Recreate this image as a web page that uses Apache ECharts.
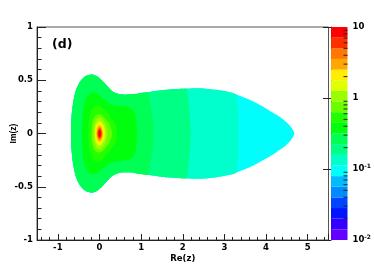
<!DOCTYPE html>
<html><head><meta charset="utf-8">
<script src="https://cdn.jsdelivr.net/npm/echarts@6/dist/echarts.min.js"></script>
<style>html,body{margin:0;padding:0;background:#fff}#c{width:374px;height:268px}</style>
</head><body><div id="c"></div>
<script>
// ---- axes ----
const xRange = [-1.5, 5.5];
const yRange = [-1, 1];
const zRange = [0.01, 10];
// ---- colour scale: 20 log-spaced contour levels and their palette colours ----
const contourLevels = [0.01, 0.0141, 0.0200, 0.0282, 0.0398, 0.0562, 0.0794, 0.112, 0.158, 0.224, 0.316, 0.447, 0.631, 0.891, 1.26, 1.78, 2.51, 3.55, 5.01, 7.08, 10];
const paletteColors = ['#6300ff','#3300ff','#0014ff','#0044ff','#008bff','#00bbff','#00fffc','#00ffcc','#00ff85','#00ff55','#00ff0e','#22ff00','#69ff00','#99ff00','#e0ff00','#ffee00','#ffa700','#ff7700','#ff3000','#ff0000'];
const zMinorTicks = [0.02,0.03,0.04,0.05,0.06,0.07,0.08,0.09,0.2,0.3,0.4,0.5,0.6,0.7,0.8,0.9,2,3,4,5,6,7,8,9];
// ---- filled contour regions (upper half outlines [Re z, Im z]; the field is symmetric in Im z) ----
const regionValues = [0.094, 0.133, 0.188, 0.266, 0.376, 0.531, 0.75, 1.06, 1.5, 2.11, 2.99, 4.22, 5.96, 8.4];
const outlineDomain = [[-0.68,0],[-0.67,0.15],[-0.63,0.29],[-0.56,0.41],[-0.46,0.49],[-0.33,0.54],[-0.18,0.555],[-0.05,0.535],[0.08,0.49],[0.2,0.44],[0.3,0.4],[0.42,0.375],[0.6,0.365],[0.85,0.37],[1.2,0.39],[1.6,0.41],[2.0,0.42],[2.4,0.425],[2.8,0.41],[3.1,0.39],[3.4,0.35],[3.7,0.3],[4.0,0.235],[4.25,0.175],[4.45,0.12],[4.58,0.07],[4.65,0.03],[4.68,0]];
const outlineBand7 = [[-0.68,0],[-0.67,0.15],[-0.63,0.29],[-0.56,0.41],[-0.46,0.49],[-0.33,0.54],[-0.18,0.555],[-0.05,0.535],[0.08,0.49],[0.2,0.44],[0.3,0.4],[0.42,0.375],[0.6,0.365],[0.85,0.37],[1.2,0.39],[1.6,0.41],[2.0,0.42],[2.4,0.425],[2.8,0.41],[3.1,0.39],[3.28,0.368],[3.31,0.3],[3.33,0.2],[3.34,0.1],[3.34,0]];
const outlineBand8 = [[-0.68,0],[-0.67,0.15],[-0.63,0.29],[-0.56,0.41],[-0.46,0.49],[-0.33,0.54],[-0.18,0.555],[-0.05,0.535],[0.08,0.49],[0.2,0.44],[0.3,0.4],[0.42,0.375],[0.6,0.365],[0.85,0.37],[1.2,0.39],[1.6,0.41],[2.0,0.42],[2.1,0.42],[2.13,0.33],[2.16,0.22],[2.18,0.1],[2.19,0]];
const outlineBand9 = [[-0.68,0],[-0.67,0.15],[-0.63,0.29],[-0.56,0.41],[-0.46,0.49],[-0.33,0.54],[-0.18,0.555],[-0.05,0.535],[0.08,0.49],[0.2,0.44],[0.3,0.4],[0.42,0.375],[0.6,0.365],[0.85,0.37],[1.14,0.385],[1.2,0.32],[1.25,0.22],[1.29,0.1],[1.3,0]];
const outlineBand10 = [[-0.42,0],[-0.41,0.15],[-0.37,0.27],[-0.3,0.345],[-0.18,0.385],[-0.05,0.37],[0.08,0.33],[0.2,0.29],[0.35,0.265],[0.55,0.255],[0.75,0.24],[0.85,0.19],[0.89,0.1],[0.9,0]];
const outlineBand11 = [[-0.27,0],[-0.26,0.1],[-0.22,0.19],[-0.14,0.25],[-0.04,0.265],[0.08,0.24],[0.2,0.19],[0.32,0.13],[0.4,0.07],[0.42,0]];
const outlineBand12 = [[-0.19,0],[-0.18,0.08],[-0.13,0.15],[-0.04,0.18],[0.06,0.17],[0.16,0.13],[0.25,0.08],[0.3,0]];
const outlineBand13 = [[-0.15,0],[-0.13,0.08],[-0.07,0.135],[0.02,0.15],[0.1,0.12],[0.16,0.07],[0.19,0]];
const outlineBand14 = [[-0.115,0],[-0.1,0.065],[-0.05,0.105],[0.02,0.115],[0.08,0.09],[0.125,0.05],[0.14,0]];
const outlineBand15 = [[-0.09,0],[-0.075,0.05],[-0.035,0.085],[0.02,0.09],[0.065,0.07],[0.1,0.035],[0.11,0]];
const outlineBand16 = [[-0.07,0],[-0.055,0.045],[-0.02,0.07],[0.02,0.072],[0.055,0.05],[0.08,0]];
const outlineBand17 = [[-0.055,0],[-0.04,0.035],[0.01,0.058],[0.045,0.04],[0.065,0]];
const outlineBand18 = [[-0.04,0],[-0.028,0.03],[0.01,0.046],[0.038,0.03],[0.052,0]];
const outlineBand19 = [[-0.025,0],[-0.015,0.022],[0.01,0.032],[0.028,0.02],[0.035,0]];
const regionOutlines = [outlineDomain, outlineBand7, outlineBand8, outlineBand9, outlineBand10, outlineBand11, outlineBand12, outlineBand13, outlineBand14, outlineBand15, outlineBand16, outlineBand17, outlineBand18, outlineBand19];

function colorOf(v) {
  for (let i = 0; i < paletteColors.length; i++) {
    if (v >= contourLevels[i] && v < contourLevels[i + 1]) return paletteColors[i];
  }
  return v >= contourLevels[contourLevels.length - 1] ? paletteColors[paletteColors.length - 1] : paletteColors[0];
}
function fullOutline(upper) {
  const lower = upper.filter(p => p[1] !== 0).slice().reverse().map(p => [p[0], -p[1]]);
  return upper.concat(lower);
}

const AXC = '#222';
const fontMain = 'DejaVu Sans';
const chart = echarts.init(document.getElementById('c'), null, {renderer: 'canvas'});
chart.setOption({
  animation: false,
  backgroundColor: '#fff',
  title: {text: '(d)', left: 47, top: 33, textStyle: {fontFamily: fontMain, fontWeight: 'bold', fontSize: 12.5, color: '#000'}},
  grid: [
    {left: 37, top: 27, width: 291.5, height: 213, containLabel: false, outerBoundsMode: 'none', show: true, borderColor: '#555', borderWidth: 1, backgroundColor: 'transparent'},
    {left: 331, top: 27, width: 16.5, height: 213, containLabel: false, outerBoundsMode: 'none', show: false}
  ],
  xAxis: [
    {gridIndex: 0, type: 'value', min: xRange[0], max: xRange[1], splitNumber: 7,
     axisLine: {show: true, onZero: false, lineStyle: {color: AXC, width: 1}},
     axisTick: {show: true, inside: true, length: 6, lineStyle: {color: AXC}},
     minorTick: {show: true, splitNumber: 5, length: 3, lineStyle: {color: AXC}},
     splitLine: {show: false}, minorSplitLine: {show: false},
     axisLabel: {showMinLabel: false, showMaxLabel: false, fontFamily: fontMain, fontWeight: 'bold', fontSize: 8.5, color: '#000', margin: 3},
     name: 'Re(z)', nameLocation: 'middle', nameGap: 14, nameMoveOverlap: false,
     nameTextStyle: {fontFamily: fontMain, fontWeight: 'bold', fontSize: 8.5, color: '#000'}},
    {gridIndex: 1, type: 'value', min: 0, max: 1, show: false}
  ],
  yAxis: [
    {gridIndex: 0, type: 'value', min: yRange[0], max: yRange[1], interval: 0.5,
     axisLine: {show: true, onZero: false, lineStyle: {color: AXC, width: 1}},
     axisTick: {show: true, inside: true, length: 9, lineStyle: {color: AXC}},
     minorTick: {show: true, splitNumber: 5, length: 4.5, lineStyle: {color: AXC}},
     splitLine: {show: false}, minorSplitLine: {show: false},
     axisLabel: {fontFamily: fontMain, fontWeight: 'bold', fontSize: 8.5, color: '#000', margin: 4},
     name: 'Im(z)', nameLocation: 'middle', nameGap: 19, nameRotate: 90, nameMoveOverlap: false,
     nameTextStyle: {fontFamily: 'Liberation Sans', fontWeight: 'bold', fontSize: 8.5, color: '#000'}},
    {gridIndex: 1, type: 'log', logBase: 10, min: zRange[0], max: zRange[1], position: 'right',
     axisLine: {show: true, lineStyle: {color: AXC, width: 1}},
     axisTick: {show: true, inside: true, length: 8, lineStyle: {color: AXC}},
     splitLine: {show: false},
     axisLabel: {margin: 5, color: '#000',
       formatter: function (v) {
         const e = Math.round(Math.log10(v));
         if (e === 1) return '{b|10}';
         if (e === 0) return '{b|1}';
         return '{b|10}{s|' + e + '}';
       },
       rich: {
         b: {fontFamily: fontMain, fontWeight: 'bold', fontSize: 8.5, color: '#000'},
         s: {fontFamily: fontMain, fontWeight: 'bold', fontSize: 6, color: '#000', padding: [0, 0, 5, 0]}
       }}}
  ],
  series: [
    {type: 'custom', xAxisIndex: 0, yAxisIndex: 0, silent: true, clip: true,
     data: regionValues.map((v, i) => [i, v]),
     renderItem: function (params, api) {
       const i = params.dataIndex;
       const pts = fullOutline(regionOutlines[i]).map(p => api.coord(p));
       return {type: 'polygon', shape: {points: pts, smooth: 0.25}, style: {fill: colorOf(regionValues[i]), stroke: null}};
     }},
    {type: 'custom', xAxisIndex: 1, yAxisIndex: 1, silent: true,
     data: paletteColors.map((c, i) => [contourLevels[i], contourLevels[i + 1]]),
     renderItem: function (params, api) {
       const i = params.dataIndex;
       const p0 = api.coord([0, contourLevels[i]]);
       const p1 = api.coord([1, contourLevels[i + 1]]);
       return {type: 'rect', shape: {x: p0[0], y: p1[1], width: p1[0] - p0[0], height: p0[1] - p1[1]}, style: {fill: paletteColors[i]}};
     }},
    {type: 'custom', xAxisIndex: 1, yAxisIndex: 1, silent: true, z: 5,
     data: zMinorTicks.map(v => [1, v]),
     renderItem: function (params, api) {
       const p = api.coord([1, zMinorTicks[params.dataIndex]]);
       return {type: 'line', shape: {x1: p[0], y1: p[1], x2: p[0] - 4, y2: p[1]}, style: {stroke: AXC, lineWidth: 1}};
     }}
  ]
});
</script></body></html>
